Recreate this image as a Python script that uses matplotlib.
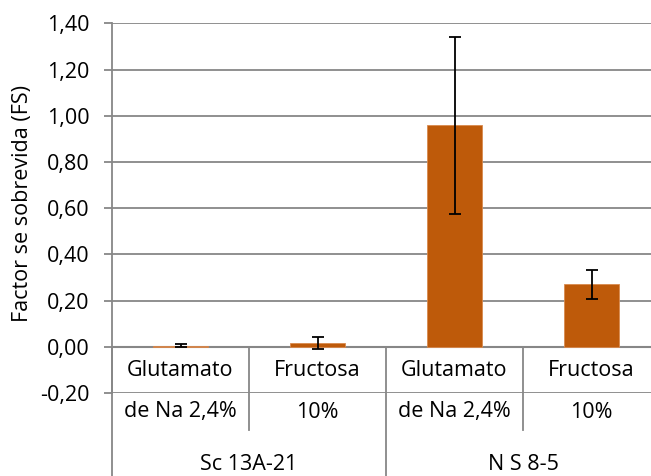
import matplotlib
matplotlib.use("Agg")
import matplotlib.pyplot as plt
from matplotlib.transforms import blended_transform_factory
import numpy as np

groups = ["Sc 13A-21", "N S 8-5"]
cond_line1 = ["Glutamato", "Fructosa", "Glutamato", "Fructosa"]
cond_line2 = ["de Na 2,4%", "10%", "de Na 2,4%", "10%"]
values = [0.005, 0.015, 0.958, 0.270]
errors = [0.008, 0.026, 0.383, 0.064]
yticks = [-0.20, 0.00, 0.20, 0.40, 0.60, 0.80, 1.00, 1.20, 1.40]
ylabel = "Factor se sobrevida (FS)"

plt.rcParams['font.family'] = ['Open Sans', 'DejaVu Sans']
FS = 15.5
W, H = 651, 476
fig = plt.figure(figsize=(W/100, H/100), dpi=100)
x0, x1 = 112, 660
ytop, ybot = 23.3, 392.9
ax = fig.add_axes([x0/W, 1-ybot/H, (x1-x0)/W, (ybot-ytop)/H])

grid_c = '#878787'
x = np.arange(len(values))
ax.bar(x, values, width=0.4, color='#BE5A0A', edgecolor='#D98A4E', linewidth=0.6, zorder=3)
ax.errorbar(x, values, yerr=errors, fmt='none', ecolor='black', elinewidth=1.3,
            capsize=4.5, capthick=1.3, zorder=4)

ax.set_xlim(-0.5, len(values)-0.5)
ax.set_ylim(-0.2, 1.4)
ax.set_yticks(yticks)
ax.set_yticklabels([f"{v:.2f}".replace('.', ',') for v in yticks], fontsize=FS)
ax.tick_params(axis='y', length=6, color=grid_c, width=1.3, pad=10)
ax.set_xticks([])
for s in ['top', 'right', 'bottom']:
    ax.spines[s].set_visible(False)
ax.spines['left'].set_color(grid_c)
ax.spines['left'].set_linewidth(1.3)
for v in yticks:
    ax.axhline(v, color=grid_c, linewidth=1.3, zorder=1)
ax.axhline(0, color=grid_c, linewidth=1.5, zorder=2)

# y label
fig.text(23/W, 1 - 204/H, ylabel, rotation=90, ha='center', va='center', fontsize=15.5)

# separators and labels below axis
tr = blended_transform_factory(ax.transData, fig.transFigure)
y_axis0 = 1 - 346.7/H
y_inner = 1 - 430/H
for b in [-0.5, 1.5, 3.5]:
    ax.plot([b, b], [y_axis0, 0], transform=tr, color=grid_c, linewidth=1.3, clip_on=False)
for b in [0.5, 2.5]:
    ax.plot([b, b], [y_axis0, y_inner], transform=tr, color=grid_c, linewidth=1.3, clip_on=False)
for i in range(len(values)):
    ax.text(i, 1 - 370/H, cond_line1[i], transform=tr, ha='center', va='center', fontsize=FS)
    ax.text(i, 1 - 412/H, cond_line2[i], transform=tr, ha='center', va='center', fontsize=FS)
for g, name in enumerate(groups):
    ax.text(2*g + 0.5, 1 - 464/H, name, transform=tr, ha='center', va='center', fontsize=FS)

fig.savefig("out.png", dpi=100)
